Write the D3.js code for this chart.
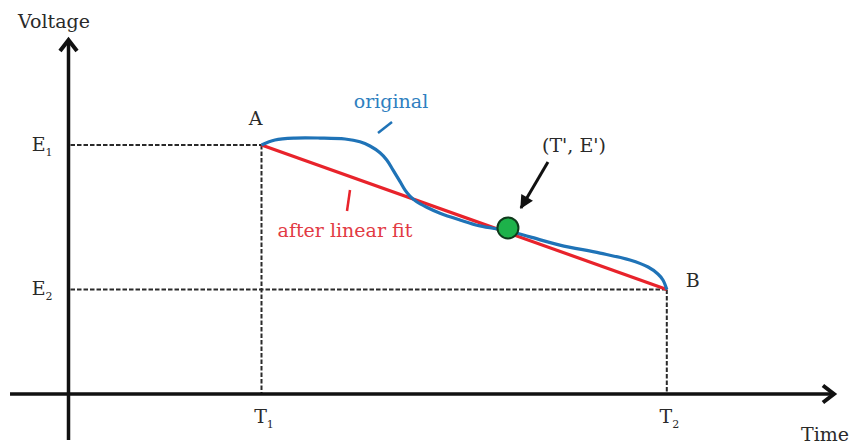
<!DOCTYPE html>
<html>
<head>
<meta charset="utf-8">
<script src="https://cdn.jsdelivr.net/npm/d3@7/dist/d3.min.js"></script>
<style>
  html, body { margin: 0; padding: 0; background: #fff; }
  svg text { font-family: "DejaVu Serif", "Liberation Serif", serif; }
</style>
</head>
<body>
<svg id="chart" width="853" height="445"></svg>
<script>
// Normalised units: time relative to T1, voltage relative to E1.
const timeTicks = [
  { name: "T", sub: "1", value: 1.0 },
  { name: "T", sub: "2", value: 3.1 }
];
const voltageTicks = [
  { name: "E", sub: "1", value: 1.0 },
  { name: "E", sub: "2", value: 0.42 }
];

// Measured discharge curve between A (T1, E1) and B (T2, E2)
const originalTime = [1.000, 1.070, 1.174, 1.303, 1.433, 1.510, 1.562, 1.614, 1.649, 1.681,
  1.718, 1.744, 1.769, 1.804, 1.856, 1.925, 2.028, 2.132, 2.277, 2.391,
  2.546, 2.754, 2.909, 3.003, 3.054, 3.080, 3.100];
const originalVoltage = [1.000, 1.020, 1.028, 1.028, 1.024, 1.013, 0.996, 0.969, 0.940, 0.900,
  0.853, 0.819, 0.795, 0.772, 0.750, 0.726, 0.699, 0.675, 0.655, 0.631,
  0.598, 0.566, 0.538, 0.510, 0.482, 0.458, 0.420];

// Straight-line fit joining A and B
const fitTime = [1.0, 3.1];
const fitVoltage = [1.0, 0.42];

// Representative point (T', E')
const markTime = [2.277];
const markVoltage = [0.667];

const endpointNames = ["A", "B"];

const svg = d3.select("#chart");
const ink = "#2a2a2a";
const blue = "#1f73b7";
const red = "#e8232b";

const x = d3.scaleLinear().domain([0, 1]).range([68.5, 261.5]);
const y = d3.scaleLinear().domain([0, 1]).range([394, 145]);

const xExtent = [-0.303, 3.966];
const yExtent = [-0.185, 1.422];

// Dashed guides from the axes to the endpoints
const guides = svg.append("g")
  .attr("stroke", ink).attr("stroke-width", 2).attr("stroke-dasharray", "4.5,2")
  .attr("fill", "none");
fitTime.forEach((t, i) => {
  guides.append("line")
    .attr("x1", x(0) + 2).attr("x2", x(t))
    .attr("y1", y(fitVoltage[i])).attr("y2", y(fitVoltage[i]));
  guides.append("line")
    .attr("x1", x(t)).attr("x2", x(t))
    .attr("y1", y(fitVoltage[i])).attr("y2", y(0));
});

// Axes
const axes = svg.append("g").attr("stroke", "#111").attr("stroke-width", 3.5).attr("fill", "none");
axes.append("line")
  .attr("x1", x(xExtent[0])).attr("x2", x(xExtent[1]) - 2)
  .attr("y1", y(0)).attr("y2", y(0));
axes.append("line")
  .attr("x1", x(0)).attr("x2", x(0))
  .attr("y1", y(yExtent[0])).attr("y2", y(yExtent[1]) + 2);
// arrowheads
const xt = [x(xExtent[1]), y(0)];
axes.append("path")
  .attr("stroke-linejoin", "miter").attr("stroke-width", 4)
  .attr("d", `M${xt[0] - 11},${xt[1] - 8.5}L${xt[0]},${xt[1]}L${xt[0] - 11},${xt[1] + 8.5}`);
const yt = [x(0), y(yExtent[1])];
axes.append("path")
  .attr("stroke-linejoin", "miter").attr("stroke-width", 4)
  .attr("d", `M${yt[0] - 8.5},${yt[1] + 11}L${yt[0]},${yt[1]}L${yt[0] + 8.5},${yt[1] + 11}`);

// Tick labels through d3 axes (no tick marks or domain line)
const xAxis = svg.append("g")
  .attr("transform", `translate(0,${y(0)})`)
  .call(d3.axisBottom(x).tickValues(timeTicks.map(d => d.value)).tickSize(0).tickPadding(16).tickFormat(""));
xAxis.select(".domain").remove();
xAxis.selectAll(".tick text").each(function(_, i) {
  const t = d3.select(this).attr("font-size", 19).attr("fill", ink)
    .attr("font-family", "DejaVu Serif").attr("text-anchor", "middle").attr("dx", 2);
  t.append("tspan").text(timeTicks[i].name);
  t.append("tspan").attr("font-size", 11).attr("dy", 5).text(timeTicks[i].sub);
});

const yAxis = svg.append("g")
  .attr("transform", `translate(${x(0)},0)`)
  .call(d3.axisLeft(y).tickValues(voltageTicks.map(d => d.value)).tickSize(0).tickPadding(16).tickFormat(""));
yAxis.select(".domain").remove();
yAxis.selectAll(".tick text").each(function(_, i) {
  const t = d3.select(this).attr("font-size", 19).attr("fill", ink)
    .attr("font-family", "DejaVu Serif").attr("text-anchor", "end").attr("dy", "0.28em");
  t.append("tspan").text(voltageTicks[i].name);
  t.append("tspan").attr("font-size", 11).attr("dy", 5).text(voltageTicks[i].sub);
});

// Axis titles
svg.append("text").attr("x", 54).attr("y", 28).attr("text-anchor", "middle")
  .attr("font-size", 19).attr("fill", ink).text("Voltage");
svg.append("text").attr("x", 825).attr("y", 441).attr("text-anchor", "middle")
  .attr("font-size", 19).attr("fill", ink).text("Time");

// Fitted line
const line = d3.line().x(d => x(d[0])).y(d => y(d[1]));
svg.append("path")
  .datum(d3.zip(fitTime, fitVoltage))
  .attr("d", line)
  .attr("fill", "none").attr("stroke", red).attr("stroke-width", 3.2);

// Original curve
const curve = d3.line().x(d => x(d[0])).y(d => y(d[1])).curve(d3.curveCatmullRom.alpha(0.5));
svg.append("path")
  .datum(d3.zip(originalTime, originalVoltage))
  .attr("d", curve)
  .attr("fill", "none").attr("stroke", blue).attr("stroke-width", 3.2);

// Endpoint labels
svg.append("text").attr("x", x(fitTime[0]) - 6).attr("y", y(fitVoltage[0]) - 20)
  .attr("text-anchor", "middle").attr("font-size", 19).attr("fill", ink).text(endpointNames[0]);
svg.append("text").attr("x", x(fitTime[1]) + 26).attr("y", y(fitVoltage[1]) - 2)
  .attr("text-anchor", "middle").attr("font-size", 19).attr("fill", ink).text(endpointNames[1]);

// Series annotations
svg.append("text").attr("x", 391).attr("y", 108).attr("text-anchor", "middle")
  .attr("font-size", 19).attr("fill", "#2f7fc0").text("original");
svg.append("line").attr("x1", 378).attr("y1", 133).attr("x2", 392).attr("y2", 122)
  .attr("stroke", blue).attr("stroke-width", 2.5);

svg.append("text").attr("x", 345).attr("y", 237).attr("text-anchor", "middle")
  .attr("font-size", 19).attr("fill", "#e23a44").text("after linear fit");
svg.append("line").attr("x1", 350).attr("y1", 190).attr("x2", 347).attr("y2", 211)
  .attr("stroke", red).attr("stroke-width", 2.5);

// Representative point and its pointer
svg.append("defs").append("marker")
  .attr("id", "head").attr("viewBox", "0 0 10 10").attr("refX", 9).attr("refY", 5)
  .attr("markerWidth", 5).attr("markerHeight", 4.5).attr("orient", "auto")
  .append("path").attr("d", "M0,0L10,5L0,10Z").attr("fill", "#111");
const mx = x(markTime[0]), my = y(markVoltage[0]);
svg.append("line")
  .attr("x1", mx + 40).attr("y1", my - 66).attr("x2", mx + 13).attr("y2", my - 20)
  .attr("stroke", "#111").attr("stroke-width", 3).attr("marker-end", "url(#head)");
svg.append("text").attr("x", mx + 66).attr("y", my - 76).attr("text-anchor", "middle")
  .attr("font-size", 19).attr("fill", ink).text("(T', E')");
svg.selectAll("circle.mark")
  .data(d3.zip(markTime, markVoltage))
  .join("circle").attr("class", "mark")
  .attr("cx", d => x(d[0])).attr("cy", d => y(d[1])).attr("r", 10.5)
  .attr("fill", "#1db24a").attr("stroke", "#0f3b1c").attr("stroke-width", 2);
</script>
</body>
</html>
